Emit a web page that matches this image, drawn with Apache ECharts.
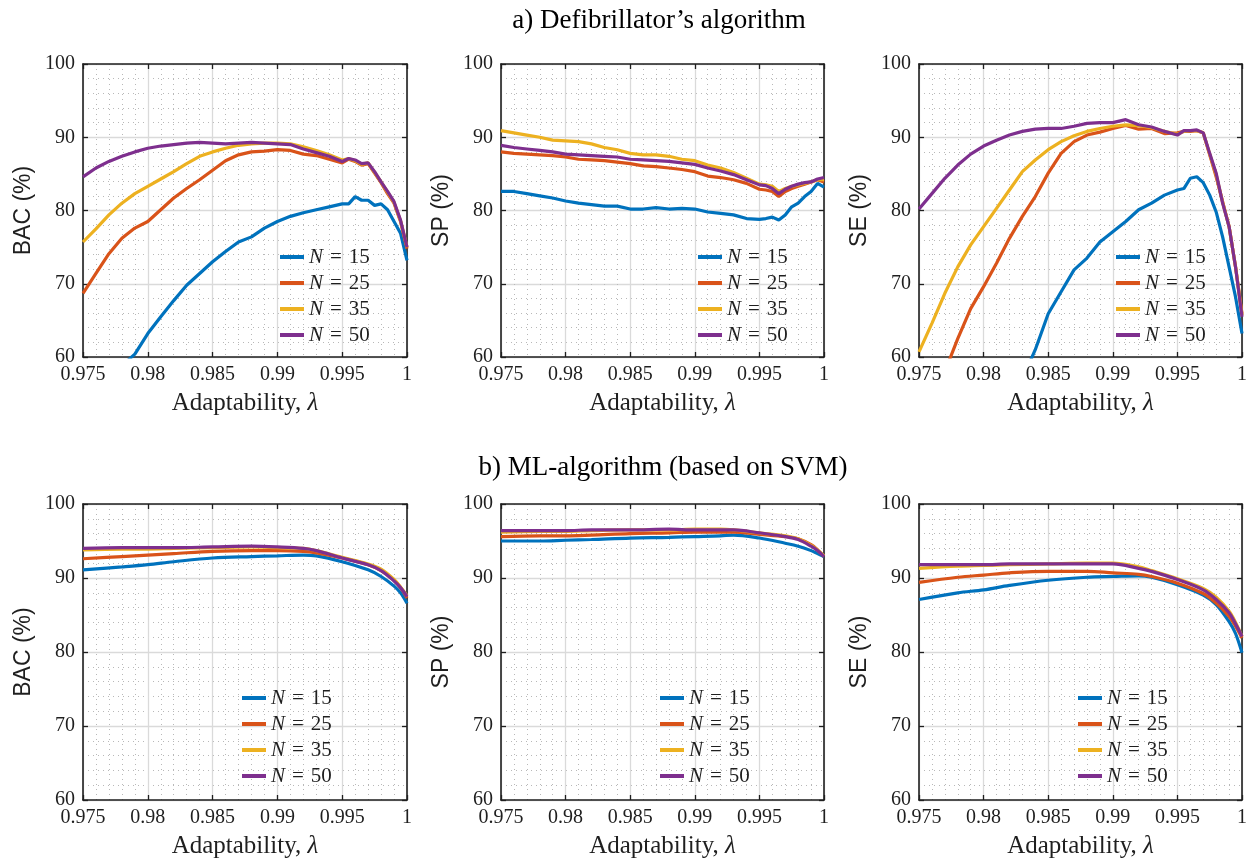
<!DOCTYPE html>
<html>
<head>
<meta charset="utf-8">
<script src="https://cdn.jsdelivr.net/npm/echarts@6/dist/echarts.min.js"></script>
<style>
  html, body { margin: 0; padding: 0; background: #ffffff; }
  #chart { width: 1255px; height: 864px; }
</style>
</head>
<body>
<div id="chart"></div>
<script>
// Adaptability values (lambda) at which each curve is sampled
const LAMBDA_A = [0.975, 0.976, 0.977, 0.978, 0.979, 0.980, 0.981, 0.982, 0.983, 0.984,
                  0.985, 0.986, 0.987, 0.988, 0.989, 0.990, 0.991, 0.992, 0.993, 0.994,
                  0.995, 0.9955, 0.996, 0.9965, 0.997, 0.9975, 0.998, 0.9985, 0.999, 0.9995, 1.0];
const LAMBDA_B = [0.975, 0.978, 0.980, 0.982, 0.985, 0.988, 0.990, 0.992, 0.993, 0.995,
                  0.997, 0.998, 0.999, 0.9995, 1.0];

// Window lengths N, one curve each
const N_VALUES = ['15', '25', '35', '50'];

// a) Defibrillator's algorithm — BAC (%)
const BAC_A_15 = [null, null, null, 58.8, 60.4, 63.2, 65.5, 67.7, 69.8, 71.4, 73.0, 74.4, 75.7, 76.4, 77.6, 78.5, 79.2, 79.7, 80.1, 80.5, 80.9,
                  80.9, 81.9, 81.4, 81.4, 80.7, 80.9, 80.1, 78.5, 76.9, 73.2];
const BAC_A_25 = [68.7, 71.4, 74.1, 76.2, 77.6, 78.5, 80.1, 81.7, 83.0, 84.2, 85.5, 86.8, 87.6, 88.0, 88.1, 88.3, 88.2, 87.7, 87.5, 87.0, 86.5,
                  87.0, 86.7, 86.2, 86.4, 85.1, 83.8, 82.3, 81.0, 78.5, 74.8];
const BAC_A_35 = [75.7, 77.5, 79.4, 81.0, 82.3, 83.3, 84.3, 85.3, 86.4, 87.4, 88.0, 88.5, 88.9, 89.1, 89.2, 89.2, 89.1, 88.7, 88.2, 87.6, 86.9,
                  87.1, 86.8, 86.3, 86.5, 85.2, 83.9, 82.5, 81.1, 78.6, 75.0];
const BAC_A_50 = [84.6, 85.8, 86.7, 87.4, 88.0, 88.5, 88.8, 89.0, 89.2, 89.3, 89.2, 89.1, 89.2, 89.3, 89.2, 89.1, 89.0, 88.4, 87.9, 87.4, 86.7,
                  87.1, 86.9, 86.4, 86.5, 85.3, 83.9, 82.6, 81.2, 78.7, 75.0];

// a) Defibrillator's algorithm — SP (%)
const SP_A_15 = [82.6, 82.6, 82.3, 82.0, 81.7, 81.3, 81.0, 80.8, 80.6, 80.6, 80.2, 80.2, 80.4, 80.2, 80.3, 80.2, 79.8, 79.6, 79.4, 78.9, 78.8,
                 78.9, 79.1, 78.7, 79.4, 80.5, 81.0, 81.9, 82.6, 83.7, 83.2];
const SP_A_25 = [88.0, 87.8, 87.7, 87.6, 87.5, 87.3, 87.0, 86.9, 86.8, 86.6, 86.4, 86.1, 86.0, 85.8, 85.6, 85.3, 84.7, 84.5, 84.2, 83.7, 82.9,
                 82.8, 82.6, 81.9, 82.6, 83.0, 83.3, 83.6, 83.9, 84.2, 83.9];
const SP_A_35 = [90.9, 90.6, 90.3, 90.0, 89.6, 89.5, 89.4, 89.1, 88.6, 88.3, 87.8, 87.6, 87.6, 87.4, 87.0, 86.8, 86.2, 85.8, 85.2, 84.4, 83.6,
                 83.5, 83.3, 82.6, 83.0, 83.3, 83.5, 83.7, 83.9, 84.2, 84.2];
const SP_A_50 = [88.9, 88.6, 88.4, 88.2, 88.0, 87.7, 87.6, 87.5, 87.4, 87.3, 87.0, 86.9, 86.8, 86.7, 86.5, 86.3, 85.8, 85.4, 84.9, 84.2, 83.5,
                 83.4, 83.0, 82.3, 82.9, 83.3, 83.6, 83.8, 83.9, 84.3, 84.5];

// a) Defibrillator's algorithm — SE (%)
const SE_A_15 = [null, null, null, null, null, null, null, null, 57.0, 61.0, 65.9, 68.9, 71.9, 73.5, 75.7, 77.1, 78.5, 80.1, 81.0, 82.1, 82.8,
                 83.0, 84.4, 84.6, 83.8, 82.1, 79.8, 76.4, 72.3, 68.2, 63.2];
const SE_A_25 = [null, null, 58.0, 62.5, 66.6, 69.6, 72.8, 76.2, 79.2, 81.9, 85.1, 87.8, 89.4, 90.3, 90.7, 91.2, 91.6, 91.1, 91.2, 90.5, 90.6,
                 90.8, 90.8, 90.9, 90.6, 87.6, 84.6, 81.2, 77.8, 72.3, 65.9];
const SE_A_35 = [60.7, 64.6, 68.7, 72.3, 75.3, 77.8, 80.3, 82.8, 85.3, 86.9, 88.3, 89.4, 90.2, 90.8, 91.2, 91.5, 91.7, 91.6, 91.3, 90.8, 90.4,
                 90.8, 90.9, 90.9, 90.6, 87.7, 84.9, 81.1, 77.8, 72.3, 65.7];
const SE_A_50 = [80.2, 82.3, 84.4, 86.2, 87.7, 88.8, 89.6, 90.3, 90.8, 91.1, 91.2, 91.2, 91.5, 91.9, 92.0, 92.0, 92.4, 91.7, 91.4, 90.8, 90.3,
                 90.9, 90.9, 91.0, 90.6, 87.8, 85.1, 81.0, 77.8, 72.3, 65.5];

// b) ML-algorithm (based on SVM)
const BAC_B_15 = [91.1, 91.5, 91.8, 92.2, 92.7, 92.9, 93.0, 93.1, 93.0, 92.2, 91.1, 90.2, 88.9, 88.0, 86.6];
const BAC_B_25 = [92.6, 92.9, 93.1, 93.3, 93.6, 93.7, 93.7, 93.6, 93.4, 92.7, 91.8, 91.0, 89.7, 88.7, 87.3];
const BAC_B_35 = [93.8, 93.9, 93.9, 94.0, 94.1, 94.2, 94.1, 94.0, 93.7, 92.8, 91.9, 91.2, 89.8, 88.8, 87.6];
const BAC_B_50 = [94.0, 94.1, 94.1, 94.1, 94.2, 94.3, 94.2, 94.0, 93.7, 92.7, 91.8, 91.0, 89.6, 88.7, 87.5];

const SP_B_15 = [95.0, 95.0, 95.1, 95.2, 95.4, 95.5, 95.6, 95.7, 95.8, 95.4, 94.7, 94.3, 93.7, 93.3, 92.9];
const SP_B_25 = [95.6, 95.7, 95.7, 95.8, 96.0, 96.1, 96.2, 96.2, 96.2, 95.9, 95.6, 95.3, 94.5, 93.8, 92.9];
const SP_B_35 = [96.2, 96.3, 96.3, 96.4, 96.5, 96.5, 96.6, 96.6, 96.5, 96.1, 95.7, 95.3, 94.4, 93.8, 93.0];
const SP_B_50 = [96.4, 96.4, 96.4, 96.5, 96.5, 96.6, 96.5, 96.5, 96.5, 96.1, 95.6, 95.2, 94.3, 93.7, 92.9];

const SE_B_15 = [87.1, 88.0, 88.4, 89.0, 89.7, 90.1, 90.2, 90.3, 90.1, 89.1, 87.7, 86.4, 84.1, 82.5, 79.9];
const SE_B_25 = [89.4, 90.1, 90.4, 90.7, 90.9, 90.9, 90.7, 90.5, 90.2, 89.3, 87.9, 86.6, 84.8, 83.5, 81.9];
const SE_B_35 = [91.3, 91.6, 91.7, 91.8, 91.9, 92.0, 92.0, 91.5, 91.0, 89.9, 88.6, 87.4, 85.5, 84.0, 82.1];
const SE_B_50 = [91.8, 91.8, 91.8, 91.9, 91.9, 91.9, 91.9, 91.3, 90.9, 89.8, 88.4, 87.1, 85.3, 83.8, 82.1];

// Axis ranges and labels
const X_MIN = 0.975, X_MAX = 1, X_STEP = 0.005;
const Y_MIN = 60, Y_MAX = 100, Y_STEP = 10;
const Y_NAMES = ['BAC (%)', 'SP (%)', 'SE (%)'];
const X_NAME = 'Adaptability, {i|λ}';
const TITLES = ['a) Defibrillator\u2019s algorithm', 'b) ML-algorithm (based on SVM)'];

const COLORS = ['#0072BD', '#D95319', '#EDB120', '#7E2F8E'];
const SERIF = 'Liberation Serif';
const SANS = 'Liberation Sans';
const INK = '#1f1f1f';

const panels = [
  { lam: LAMBDA_A, yName: Y_NAMES[0], curves: [BAC_A_15, BAC_A_25, BAC_A_35, BAC_A_50],
    grid: { left: 83, top: 64, width: 324, height: 293 }, legend: { left: 280, top: 246 }, smooth: false },
  { lam: LAMBDA_A, yName: Y_NAMES[1], curves: [SP_A_15, SP_A_25, SP_A_35, SP_A_50],
    grid: { left: 501, top: 64, width: 323, height: 293 }, legend: { left: 698, top: 246 }, smooth: false },
  { lam: LAMBDA_A, yName: Y_NAMES[2], curves: [SE_A_15, SE_A_25, SE_A_35, SE_A_50],
    grid: { left: 919, top: 64, width: 323, height: 293 }, legend: { left: 1116, top: 246 }, smooth: false },
  { lam: LAMBDA_B, yName: Y_NAMES[0], curves: [BAC_B_15, BAC_B_25, BAC_B_35, BAC_B_50],
    grid: { left: 83, top: 504, width: 324, height: 296 }, legend: { left: 242, top: 687 }, smooth: 0.35 },
  { lam: LAMBDA_B, yName: Y_NAMES[1], curves: [SP_B_15, SP_B_25, SP_B_35, SP_B_50],
    grid: { left: 501, top: 504, width: 323, height: 296 }, legend: { left: 660, top: 687 }, smooth: 0.35 },
  { lam: LAMBDA_B, yName: Y_NAMES[2], curves: [SE_B_15, SE_B_25, SE_B_35, SE_B_50],
    grid: { left: 919, top: 504, width: 323, height: 296 }, legend: { left: 1078, top: 687 }, smooth: 0.35 }
];

const seriesNames = N_VALUES.map(n => 'N = ' + n);
const boxLine = { show: true, onZero: false, lineStyle: { color: INK, width: 1.6 } };
const tickIn = { show: true, inside: true, length: 5, lineStyle: { color: INK, width: 1.3 } };

const grids = [], xAxes = [], yAxes = [], series = [], legends = [];

panels.forEach((p, gi) => {
  grids.push(Object.assign({ containLabel: false }, p.grid));

  // bottom axis with labels and name, top axis as box edge with ticks
  xAxes.push({
    type: 'value', gridIndex: gi, position: 'bottom', min: X_MIN, max: X_MAX, interval: X_STEP,
    axisLine: boxLine, axisTick: tickIn,
    axisLabel: { fontFamily: SERIF, fontSize: 20, color: INK, margin: 8,
                 formatter: v => String(+v.toFixed(3)) },
    splitLine: { show: true, lineStyle: { color: '#dadada', width: 1.3 } },
    minorTick: { show: false, splitNumber: 5 },
    minorSplitLine: { show: true, lineStyle: { color: '#b8b8b8', width: 1, type: [1, 4] } },
    name: X_NAME, nameLocation: 'middle', nameGap: 34,
    nameTextStyle: { fontFamily: SERIF, fontSize: 25, color: INK,
                     rich: { i: { fontFamily: SERIF, fontSize: 25, fontStyle: 'italic', color: INK } } }
  });
  xAxes.push({
    type: 'value', gridIndex: gi, position: 'top', min: X_MIN, max: X_MAX, interval: X_STEP,
    axisLine: boxLine, axisTick: tickIn, axisLabel: { show: false }, splitLine: { show: false }
  });

  // left axis with labels and name, right axis as box edge with ticks
  yAxes.push({
    type: 'value', gridIndex: gi, position: 'left', min: Y_MIN, max: Y_MAX, interval: Y_STEP,
    axisLine: boxLine, axisTick: tickIn,
    axisLabel: { fontFamily: SERIF, fontSize: 20, color: INK, margin: 8 },
    splitLine: { show: true, lineStyle: { color: '#dadada', width: 1.3 } },
    minorTick: { show: false, splitNumber: 5 },
    minorSplitLine: { show: true, lineStyle: { color: '#b8b8b8', width: 1, type: [1, 4] } },
    name: p.yName, nameLocation: 'middle', nameGap: 48,
    nameTextStyle: { fontFamily: SANS, fontSize: 23, color: INK }
  });
  yAxes.push({
    type: 'value', gridIndex: gi, position: 'right', min: Y_MIN, max: Y_MAX, interval: Y_STEP,
    axisLine: boxLine, axisTick: tickIn, axisLabel: { show: false }, splitLine: { show: false }
  });

  p.curves.forEach((vals, k) => {
    series.push({
      type: 'line', name: seriesNames[k], xAxisIndex: gi * 2, yAxisIndex: gi * 2,
      data: p.lam.map((l, i) => [l, vals[i]]),
      showSymbol: false, symbol: 'none', smooth: p.smooth, clip: true,
      lineStyle: { color: COLORS[k], width: 3.2 }, itemStyle: { color: COLORS[k] },
      z: 3 + k, silent: true, animation: false
    });
  });

  legends.push({
    left: p.legend.left, top: p.legend.top, orient: 'vertical', data: seriesNames,
    icon: 'rect', itemWidth: 24, itemHeight: 4, itemGap: 4, padding: 0,
    selectedMode: false, backgroundColor: 'transparent',
    formatter: name => '{i|N}{e|=}' + name.split('=')[1].trim(),
    textStyle: { fontFamily: SERIF, fontSize: 21, color: INK, lineHeight: 22,
                 rich: { i: { fontFamily: SERIF, fontStyle: 'italic', fontSize: 21, color: INK, lineHeight: 22 },
                         e: { fontFamily: SERIF, fontSize: 21, color: INK, padding: [0, 7, 0, 7], lineHeight: 22 } } }
  });
});

// Row headings, centred over the three panels of each row
const headingStyle = (text) => ({
  text: text, fill: '#000', font: '27px "Liberation Serif"', align: 'center', verticalAlign: 'middle'
});

const chart = echarts.init(document.getElementById('chart'), null, { renderer: 'canvas' });
chart.setOption({
  backgroundColor: '#ffffff',
  animation: false,
  graphic: [
    { type: 'text', x: 659, y: 21, silent: true, style: headingStyle(TITLES[0]) },
    { type: 'text', x: 663, y: 468, silent: true, style: headingStyle(TITLES[1]) }
  ],
  grid: grids,
  xAxis: xAxes,
  yAxis: yAxes,
  legend: legends,
  series: series
});
</script>
</body>
</html>
